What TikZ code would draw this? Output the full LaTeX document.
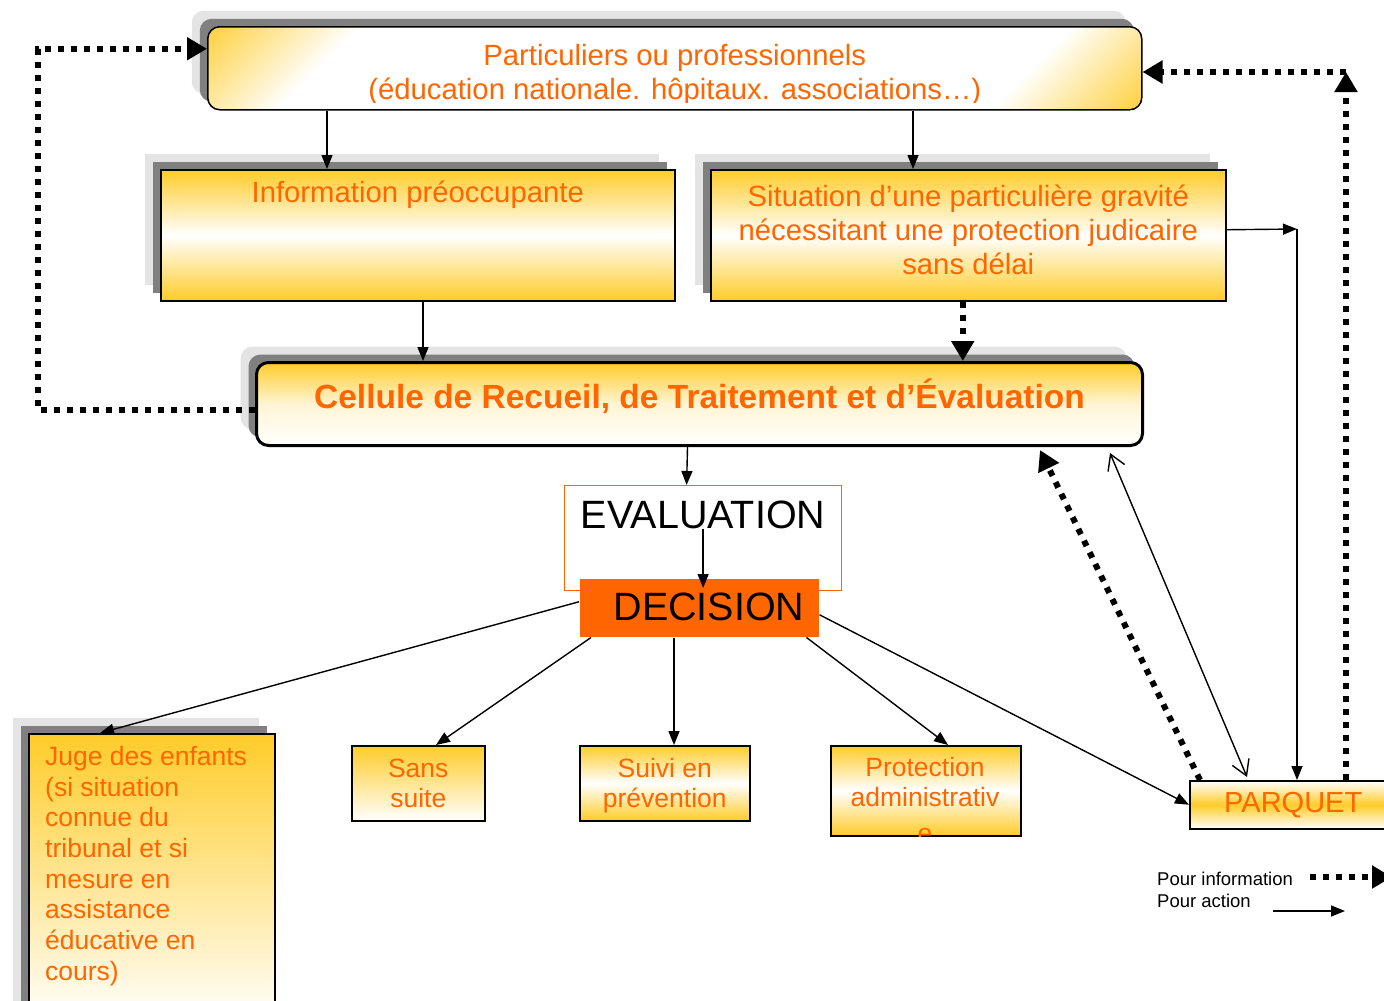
\documentclass[tikz,border=0pt]{standalone}
\usepackage{fontspec}
\setmainfont{Liberation Sans}
\usetikzlibrary{arrows.meta,shadows}
\definecolor{jaune}{RGB}{255,204,41}
\definecolor{orangetxt}{RGB}{255,102,0}
\definecolor{ombrefonce}{RGB}{128,128,128}
\definecolor{ombreclair}{RGB}{228,228,228}
\pgfdeclareverticalshading{diagonale}{100bp}{color(0bp)=(jaune); color(25bp)=(jaune); color(33bp)=(white); color(67bp)=(white); color(75bp)=(jaune); color(100bp)=(jaune)}
\tikzset{
  ombre/.style={general shadow={fill=ombreclair,shadow xshift=-16pt,shadow yshift=16pt},
                general shadow={fill=ombrefonce,shadow xshift=-8pt,shadow yshift=8pt}},
  boite/.style={draw=black,line width=1.5pt,anchor=north west,inner sep=0pt,text=orangetxt,
                font=\fontsize{26.5pt}{30.5pt}\selectfont,align=center},
  texte/.style={text=orangetxt,inner sep=0pt,align=center,font=\fontsize{29.3pt}{34pt}\selectfont},
  fleche/.style={line width=1.4pt,-{Triangle[length=14pt,width=11pt]}},
  pointille/.style={line width=6pt,dash pattern=on 6pt off 7pt,-{Triangle[length=20pt,width=22pt]}},
  doublefleche/.style={line width=1.4pt,{Straight Barb[length=15pt,width=18pt]}-{Straight Barb[length=15pt,width=18pt]}}
}
\begin{document}
\begin{tikzpicture}[x=1pt,y=-1pt]
\useasboundingbox (0,0) rectangle (1384,1001);

\node[boite,rounded corners=12pt,ombre,minimum width=934pt,minimum height=83pt,fill=white,
  path picture={\shade[shading=diagonale,transform canvas={rotate around={45:(path picture bounding box.center)}}]
    ([shift={(-370pt,-370pt)}]path picture bounding box.center) rectangle ([shift={(370pt,370pt)}]path picture bounding box.center);}] (part) at (207,26) {};
\begin{scope}
\clip (part.north west) rectangle ([yshift=8pt]part.south east);
\node[texte] (partt) at ([yshift=-49pt]part.north) {Particuliers ou professionnels\\(éducation nationale. hôpitaux. associations…)};
\end{scope}

\node[boite,ombre,minimum width=514pt,minimum height=131pt,
  top color=jaune,bottom color=jaune,middle color=white] (info) at (160,169) {};
\node[texte] (infot) at ([yshift=-26pt]info.north) {Information préoccupante};

\node[boite,ombre,minimum width=515pt,minimum height=131pt,
  top color=jaune,bottom color=jaune,middle color=white] (situ) at (710,169) {};
\node[texte] (situt) at ([yshift=5.5pt]situ.center) {Situation d’une particulière gravité\\nécessitant une protection judicaire\\sans délai};

\node[boite,rounded corners=12pt,line width=3pt,ombre,minimum width=886pt,minimum height=83pt,
  top color=jaune,bottom color=white,middle color=jaune!20] (cell) at (255,361) {};
\node[texte,font=\fontsize{33.5pt}{38pt}\selectfont\bfseries] (cellt) at ([yshift=8pt]cell.center) {Cellule de Recueil, de Traitement et d’Évaluation};

\node[boite,draw=orangetxt,line width=1.2pt,fill=white,minimum width=277pt,minimum height=105pt] (eval) at (564,485) {};
\node[texte,text=black,font=\fontsize{39.5pt}{44pt}\selectfont] (evalt) at ([yshift=-30pt]eval.north) {EVALUATION};

\node[boite,draw=none,fill=orangetxt,minimum width=239pt,minimum height=58pt] (decision) at (579,578) {};
\node[texte,text=black,font=\fontsize{39.5pt}{44pt}\selectfont] (decisiont) at (709,607) {DECISION};

\node[boite,ombre,minimum width=246pt,minimum height=290pt,top color=jaune,bottom color=white] (juge) at (28,733) {};
\node[texte,anchor=north west,align=left,font=\fontsize{26.5pt}{30.7pt}\selectfont] (juget) at (45,746) {Juge des enfants\\(si situation\\connue du\\tribunal et si\\mesure en\\assistance\\éducative en\\cours)};

\node[boite,minimum width=133pt,minimum height=75pt,top color=jaune,bottom color=white] (sans) at (351,745) {Sans\\suite};

\node[boite,minimum width=170pt,minimum height=75pt,top color=jaune,bottom color=jaune,middle color=white] (suivi) at (579,745) {};
\node[texte,font=\fontsize{26.5pt}{30.5pt}\selectfont] (suivit) at ([yshift=-2.5pt]suivi.center) {Suivi en\\prévention};

\node[boite,minimum width=190pt,minimum height=90pt,top color=jaune,bottom color=jaune,middle color=white] (prot) at (830,745) {};
\begin{scope}
\clip (prot.north west) rectangle (prot.south east);
\node[texte,anchor=north,font=\fontsize{26.5pt}{30pt}\selectfont] (prott) at (925,757) {Protection\\administrativ\\[6pt]e};
\end{scope}

\node[boite,minimum width=215pt,minimum height=48pt,top color=white,bottom color=white,middle color=jaune,
  font=\fontsize{29pt}{34pt}\selectfont] (parquet) at (1189,780) {PARQUET\hspace{8pt}};

\node[anchor=west,inner sep=0pt,font=\fontsize{18.5pt}{22pt}\selectfont] (leginfo) at (1157,879) {Pour information};
\node[anchor=west,inner sep=0pt,font=\fontsize{18.5pt}{22pt}\selectfont] (legaction) at (1157,901) {Pour action};
\coordinate (infodeb) at (1310,877);
\coordinate (infofin) at (1392,877);
\coordinate (actiondeb) at (1273,911);
\coordinate (actionfin) at (1345,911);

\coordinate (gauche) at (38,228);
\coordinate (coin) at (1346,72);
\coordinate (coude) at (1297,229);

\draw[fleche] ([xshift=120pt]part.south west) -- ([xshift=120pt]part.south west |- info.north);
\draw[fleche] ([xshift=706pt]part.south west) -- ([xshift=706pt]part.south west |- situ.north);
\draw[fleche] ([xshift=263pt]info.south west) -- ([xshift=263pt]info.south west |- cell.north);
\draw[pointille] ([xshift=-5.5pt]situ.south) -- ([xshift=-5.5pt]situ.south |- cell.north);
\draw[fleche] ([yshift=5.5pt]situ.east) -- (coude);
\draw[fleche] (coude) -- (coude |- parquet.north);
\draw[fleche] ([xshift=-12pt]cell.south) -- ([xshift=-16.5pt]eval.north);
\draw[fleche] (evalt.south) -- ([yshift=-10pt]evalt.south |- decision.north);

\draw[fleche] ([yshift=6pt]decision.west) -- ([xshift=72pt]juge.north west);
\draw[fleche] ([xshift=12pt]decision.south west) -- ([xshift=85pt]sans.north west);
\draw[fleche] ([xshift=95pt]decision.south west) -- ([xshift=95pt]decision.south west |- suivi.north);
\draw[fleche] ([xshift=-13pt]decision.south east) -- ([xshift=118pt]prot.north west);
\draw[fleche] ([yshift=-7pt]decision.east) -- (parquet.west);

\draw[doublefleche] ([xshift=-34pt,yshift=-6pt]cell.south east) -- ([xshift=58pt,yshift=3pt]parquet.north west);
\draw[pointille] ([xshift=11pt]parquet.north west) -- ([xshift=-104pt,yshift=-3pt]cell.south east);
\draw[pointille] ([xshift=157pt]parquet.north west) -- (coin);
\draw[pointille] (coin) -- (part.east |- coin);
\draw[pointille] ([yshift=-5.5pt]cell.west) -| (gauche) |- ([yshift=19.5pt]part.west);

\draw[pointille] (infodeb) -- (infofin);
\draw[fleche] (actiondeb) -- (actionfin);

\end{tikzpicture}
\end{document}
